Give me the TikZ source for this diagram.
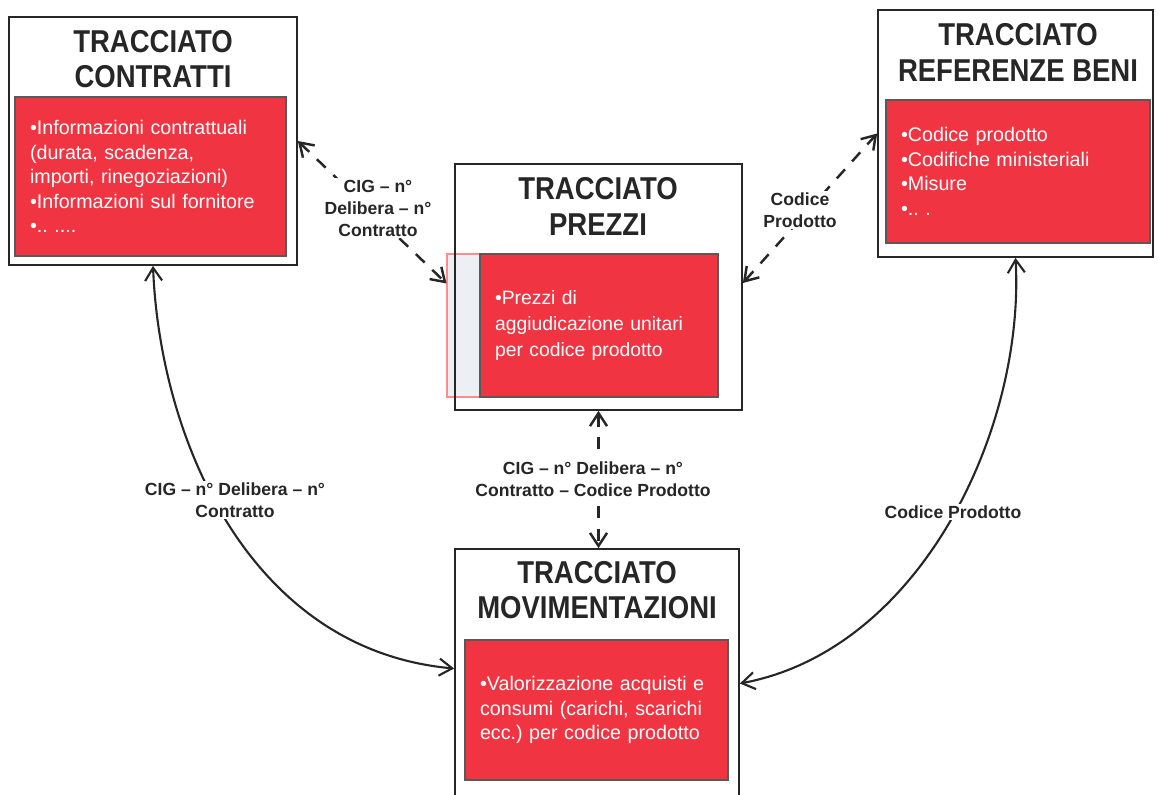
\documentclass[tikz,border=0pt]{standalone}
\usepackage{fontspec}
\setmainfont{Liberation Sans}
\newfontfamily\titlefont[FakeStretch=0.87]{Liberation Sans}
\usetikzlibrary{arrows.meta,calc}

\definecolor{boxred}{RGB}{241,52,66}
\definecolor{stripgrey}{RGB}{236,240,244}

\tikzset{
    outer/.style = {
        draw=black!85,
        line width=1pt,
        rectangle,
        inner sep=0pt
    },
    inner/.style = {
        draw=black!65,
        line width=0.8pt,
        fill=boxred,
        text=white,
        align=left,
        inner xsep=0.3cm,
        font=\fontsize{11.2}{14}\selectfont
    },
    title/.style = {
        align=center,
        text=black!85,
        font=\titlefont\bfseries\fontsize{18}{20}\selectfont
    },
    link/.style = {
        dash pattern=on 7pt off 6pt,
        line width=1.4pt,
        black!85,
        {Straight Barb[length=2.6mm,width=3.4mm]}-{Straight Barb[length=2.6mm,width=3.4mm]}
    },
    flow/.style = {
        line width=1.2pt,
        black!85,
        {Straight Barb[length=2.6mm,width=3.4mm]}-{Straight Barb[length=2.6mm,width=3.4mm]}
    },
    note/.style = {
        fill=white,
        align=center,
        inner sep=1pt,
        text=black!85,
        font=\fontsize{10}{12.5}\selectfont\bfseries
    }
}

\begin{document}
\begin{tikzpicture}[x=0.02cm,y=-0.02cm]
    \clip (0,0) rectangle (1158,794);

    % Draw all boxes
    \node[draw=red!45, line width=0.6pt, fill=stripgrey, minimum width=0.66cm, minimum height=2.86cm] (prezzistrip) at (463.5,325.5) {};

    \node[outer, minimum width=5.76cm, minimum height=4.96cm] (contratti) at (153,141) {};
    \node[outer, minimum width=5.5cm, minimum height=4.94cm] (referenze) at (1015.5,133.5) {};
    \node[outer, minimum width=5.74cm, minimum height=4.92cm] (prezzi) at (598.5,287) {};
    \node[outer, minimum width=5.68cm, minimum height=5.02cm] (movim) at (597,674.5) {};

    \node[inner, text width=4.82cm, minimum height=3.18cm] (contrattibody) at (150.5,176.5)
        {•Informazioni contrattuali\\(durata, scadenza,\\importi, rinegoziazioni)\\•Informazioni sul fornitore\\•..\ ....};
    \node[inner, text width=4.68cm, minimum height=2.86cm] (referenzebody) at (1018,171.5)
        {•Codice prodotto\\•Codifiche ministeriali\\•Misure\\•..\ .};
    \node[inner, text width=4.16cm, minimum height=2.86cm, font=\fontsize{11}{15}\selectfont] (prezzibody) at (599,325.5)
        {•Prezzi di\\aggiudicazione unitari\\per codice prodotto};
    \node[inner, text width=4.66cm, minimum height=2.8cm] (movimbody) at (596.5,710)
        {•Valorizzazione acquisti e\\consumi (carichi, scarichi\\ecc.)\ per codice prodotto};

    % Draw titles
    \node[title] (contrattititle) at (153,59.5) {TRACCIATO\\CONTRATTI};
    \node[title] (referenzetitle) at (1018,52.5) {TRACCIATO\\REFERENZE BENI};
    \node[title] (prezzititle) at (598,206.5) {TRACCIATO\\PREZZI};
    \node[title] (movimtitle) at (597,590.5) {TRACCIATO\\MOVIMENTAZIONI};

    % Draw arrows
    \draw[link] (contratti.east) -- ([yshift=-0.6cm]prezzistrip.north west);
    \draw[link] ([yshift=0.08cm]prezzi.east) -- (referenze.west);
    \draw[link] (prezzi.south) -- (prezzi.south |- movim.north);
    %
    \draw[flow] (contratti.south) .. controls (160,440) and (250,650) .. ([yshift=0.12cm]movim.west);
    \draw[flow] (referenze.south) .. controls (1025,430) and (920,650) .. ([yshift=-0.18cm]movim.east);

    % Draw labels
    \node[note] (tagtop) at (378,208) {CIG – n°\\Delibera – n°\\Contratto};
    \node[note] (tagcode) at (800,210) {Codice\\Prodotto};
    \node[note] (tagmid) at (593,479) {CIG – n° Delibera – n°\\Contratto – Codice Prodotto};
    \node[note] (tagleft) at (235,500) {CIG – n° Delibera – n°\\Contratto};
    \node[note] (tagright) at (953,512) {Codice Prodotto};
\end{tikzpicture}
\end{document}
